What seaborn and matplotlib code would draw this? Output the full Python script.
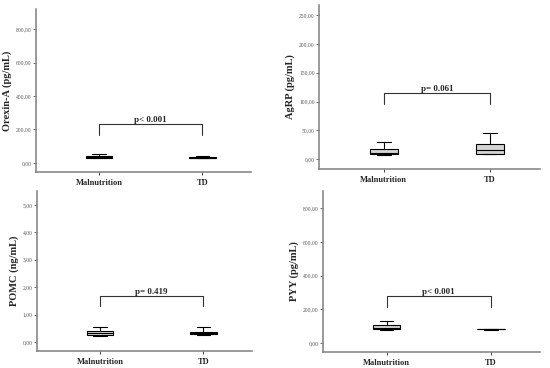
import pandas as pd
import matplotlib.pyplot as plt
import seaborn as sns
from matplotlib.ticker import FuncFormatter

# group labels
groups = ['Malnutrition', 'TD']

# five-number summaries (min, q1, median, q3, max)
orexin_mal = [28, 30, 37, 42, 55]
orexin_td = [27, 29, 31, 33, 42]
agrp_mal = [7, 8.7, 10.5, 17.4, 29.6]
agrp_td = [8, 8.7, 15.7, 26, 45]
pomc_mal = [0.22, 0.27, 0.33, 0.40, 0.55]
pomc_td = [0.24, 0.28, 0.32, 0.38, 0.55]
pyy_mal = [80, 83, 88, 107, 130]
pyy_td = [79, 81, 82, 84, 86]

ylabels = ['Orexin-A (pg/mL)', 'AgRP (pg/mL)', 'POMC (ng/mL)', 'PYY (pg/mL)']
p_texts = ['p< 0.001', 'p= 0.061', 'p= 0.419', 'p< 0.001']
bracket_top = [233, 115, 1.68, 279]
bracket_low = [167, 96, 1.31, 214]
y_ticks = [[0, 200, 400, 600, 800],
           [0, 50, 100, 150, 200, 250],
           [0, 1, 2, 3, 4, 5],
           [0, 200, 400, 600, 800]]
y_lims = [(-54, 920), (-17.4, 268), (-0.33, 5.51), (-53, 902)]

data = [(orexin_mal, orexin_td), (agrp_mal, agrp_td),
        (pomc_mal, pomc_td), (pyy_mal, pyy_td)]

# axes boxes in pixels: left, right, top, bottom
W, H = 550, 368
boxes_px = [(36, 251, 9, 172), (319, 540, 5, 169),
            (37, 252, 191, 351), (323, 540, 191, 352)]

sns.set_style('white')
plt.rcParams['font.family'] = ['Liberation Serif', 'DejaVu Serif']

fig = plt.figure(figsize=(5.5, 3.68), dpi=100)

fmt = FuncFormatter(lambda v, pos: f'{v:.2f}'.replace('.', ','))

for i, (mal, td) in enumerate(data):
    l, r, t, b = boxes_px[i]
    ax = fig.add_axes([l / W, 1 - b / H, (r - l) / W, (b - t) / H])
    df = pd.DataFrame({'group': [groups[0]] * len(mal) + [groups[1]] * len(td),
                       'value': mal + td})
    fill = ['#c9bd8c', '#d4d4d4'] if i == 0 else ['#d4d4d4', '#d4d4d4']
    sns.boxplot(data=df, x='group', y='value', hue='group', palette=fill,
                legend=False, width=0.26, whis=(0, 100), linewidth=0.8,
                linecolor='black', ax=ax)
    ax.set_xlim(-0.61, 1.47)
    ax.set_ylim(*y_lims[i])
    ax.set_yticks(y_ticks[i])
    ax.yaxis.set_major_formatter(fmt)
    ax.tick_params(axis='y', labelsize=4, length=2, width=0.6,
                   colors='#555555', left=True, pad=1)
    ax.tick_params(axis='x', labelsize=6, length=2, width=0.6, bottom=True, pad=3)
    for lab in ax.get_xticklabels():
        lab.set_fontweight('bold')
    ax.set_xlabel('')
    ax.set_ylabel(ylabels[i], fontsize=7.5, fontweight='bold', labelpad=3)
    for side in ['top', 'right']:
        ax.spines[side].set_visible(False)
    for side in ['left', 'bottom']:
        ax.spines[side].set_color('#7f7f7f')
        ax.spines[side].set_linewidth(1.1)

    # significance bracket
    ax.plot([0, 0, 1, 1],
            [bracket_low[i], bracket_top[i], bracket_top[i], bracket_low[i]],
            color='#333333', lw=0.8)
    ax.text(0.5, bracket_top[i], p_texts[i], ha='center', va='bottom',
            fontsize=6.5, fontweight='bold')

fig.savefig('out.png', dpi=100)
